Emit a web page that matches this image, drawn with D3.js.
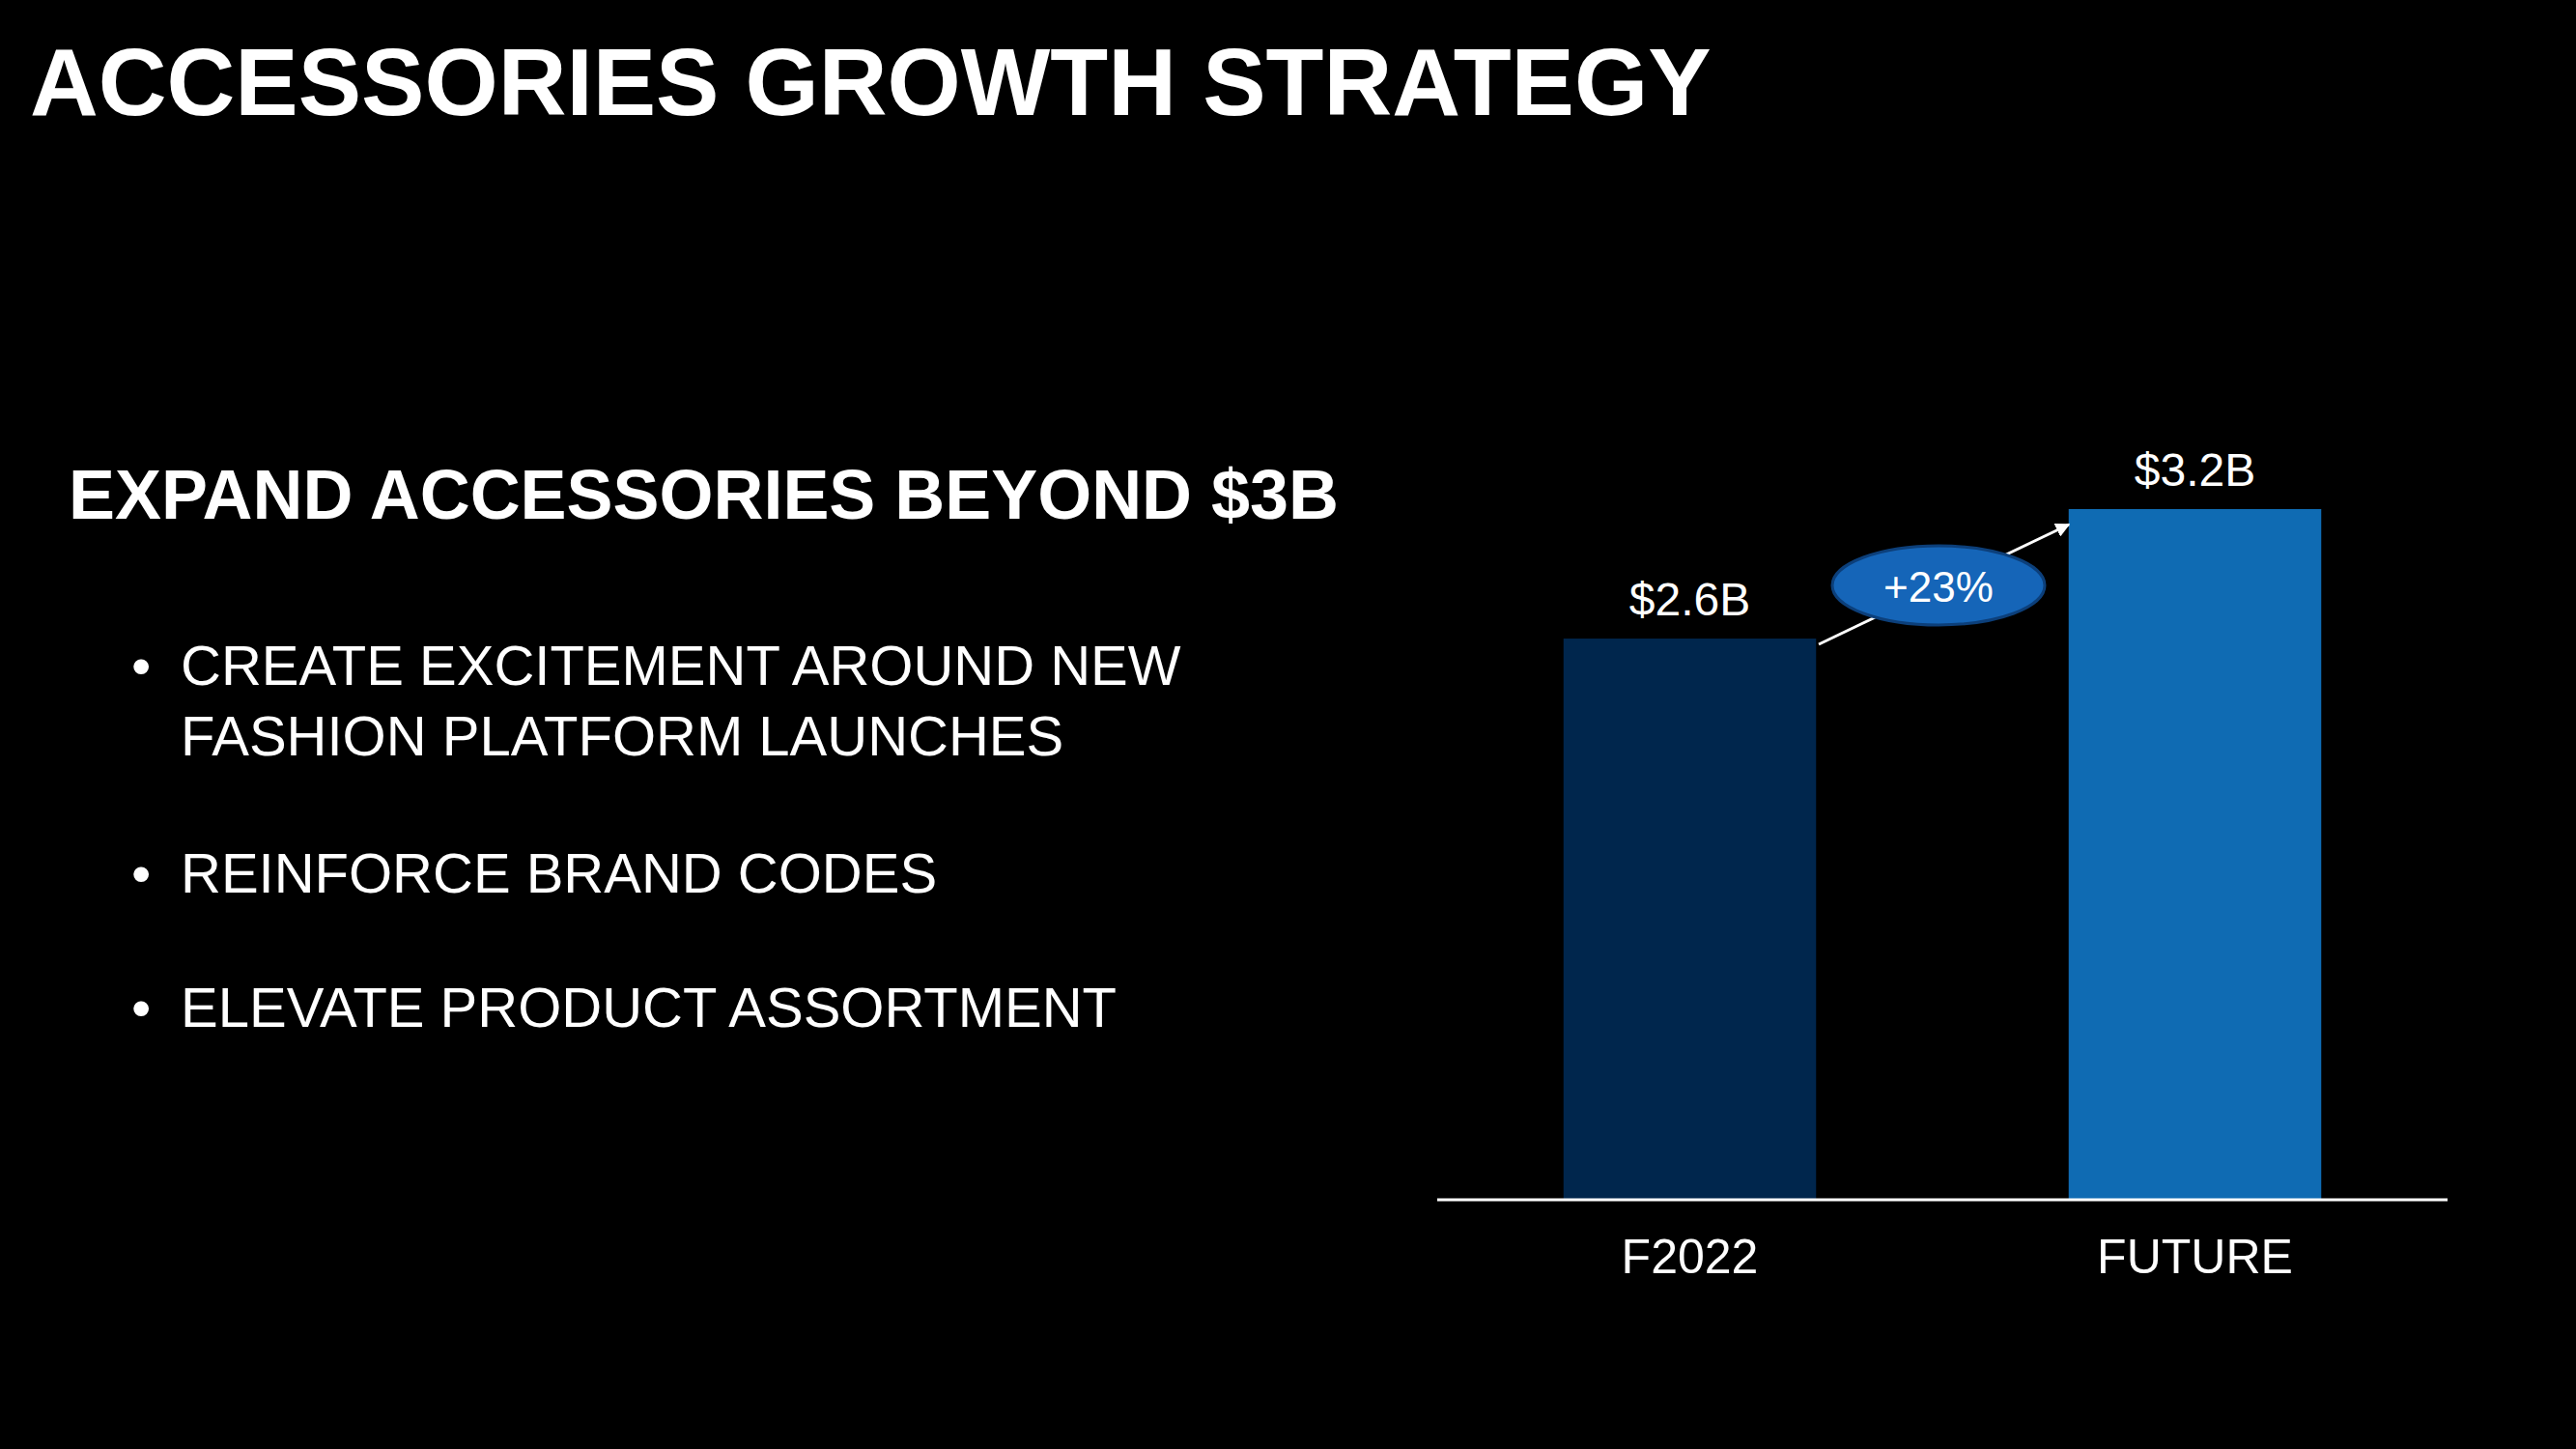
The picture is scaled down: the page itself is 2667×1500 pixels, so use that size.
<!DOCTYPE html>
<html>
<head>
<meta charset="utf-8">
<script src="https://cdn.jsdelivr.net/npm/d3@7"></script>
<style>
  body { margin: 0; background: #000; }
  text { font-family: "Liberation Sans", Arial, sans-serif; fill: #fff; }
</style>
</head>
<body>
<script>
// données
const categories = ["F2022", "FUTURE"];
const values = [2.6, 3.2];
const valueLabels = ["$2.6B", "$3.2B"];
const growthLabel = "+23%";
const bullets = [
  ["CREATE EXCITEMENT AROUND NEW", "FASHION PLATFORM LAUNCHES"],
  ["REINFORCE BRAND CODES"],
  ["ELEVATE PRODUCT ASSORTMENT"]
];
const barColors = ["#00264d", "#0f6bb3"];

const W = 2667, H = 1500;
const svg = d3.select("body").append("svg")
    .attr("width", W).attr("height", H)
    .style("background-color", "#000");

// titre
svg.append("text").attr("x", 31).attr("y", 119)
    .attr("font-size", 98).attr("font-weight", "bold")
    .text("ACCESSORIES GROWTH STRATEGY");

svg.append("text").attr("x", 71).attr("y", 537)
    .attr("font-size", 72).attr("font-weight", "bold")
    .attr("textLength", 1315).attr("lengthAdjust", "spacingAndGlyphs")
    .text("EXPAND ACCESSORIES BEYOND $3B");

// puces
const bulletY = [709, 924, 1063];
bullets.forEach((lines, i) => {
  svg.append("text").attr("x", 136).attr("y", bulletY[i])
      .attr("font-size", 58).text("•");
  lines.forEach((l, j) => {
    svg.append("text").attr("x", 187).attr("y", bulletY[i] + j * 73)
        .attr("font-size", 58).text(l);
  });
});

// graphique
const baseY = 1242;
const x = d3.scaleBand().domain(categories).range([1488, 2534]).paddingInner(0.5).paddingOuter(0.25);
const y = d3.scaleLinear().domain([0, 3.2]).range([baseY, 527]);

svg.selectAll("rect.bar").data(values).enter().append("rect")
    .attr("class", "bar")
    .attr("x", (d, i) => x(categories[i]))
    .attr("y", d => y(d))
    .attr("width", x.bandwidth())
    .attr("height", d => baseY - y(d))
    .attr("fill", (d, i) => barColors[i]);

svg.append("line").attr("x1", 1488).attr("x2", 2534)
    .attr("y1", baseY).attr("y2", baseY)
    .attr("stroke", "#fff").attr("stroke-width", 3);

svg.selectAll("text.val").data(values).enter().append("text")
    .attr("x", (d, i) => x(categories[i]) + x.bandwidth() / 2)
    .attr("y", d => y(d) - 24)
    .attr("text-anchor", "middle").attr("font-size", 48)
    .text((d, i) => valueLabels[i]);

svg.selectAll("text.cat").data(categories).enter().append("text")
    .attr("x", d => x(d) + x.bandwidth() / 2)
    .attr("y", 1318)
    .attr("text-anchor", "middle").attr("font-size", 50)
    .text(d => d);

// flèche de croissance
svg.append("defs").append("marker")
    .attr("id", "arr").attr("viewBox", "0 0 10 10")
    .attr("refX", 9).attr("refY", 5)
    .attr("markerWidth", 5).attr("markerHeight", 5)
    .attr("orient", "auto")
    .append("path").attr("d", "M0,0 L10,5 L0,10 z").attr("fill", "#fff");

svg.append("line").attr("x1", 1883).attr("y1", 667)
    .attr("x2", 2142).attr("y2", 543)
    .attr("stroke", "#fff").attr("stroke-width", 3)
    .attr("marker-end", "url(#arr)");

svg.append("ellipse").attr("cx", 2007).attr("cy", 606)
    .attr("rx", 110).attr("ry", 41)
    .attr("fill", "#1565b8").attr("stroke", "#0c3f7a").attr("stroke-width", 3);

svg.append("text").attr("x", 2007).attr("y", 623)
    .attr("text-anchor", "middle").attr("font-size", 44)
    .text(growthLabel);
</script>
</body>
</html>
